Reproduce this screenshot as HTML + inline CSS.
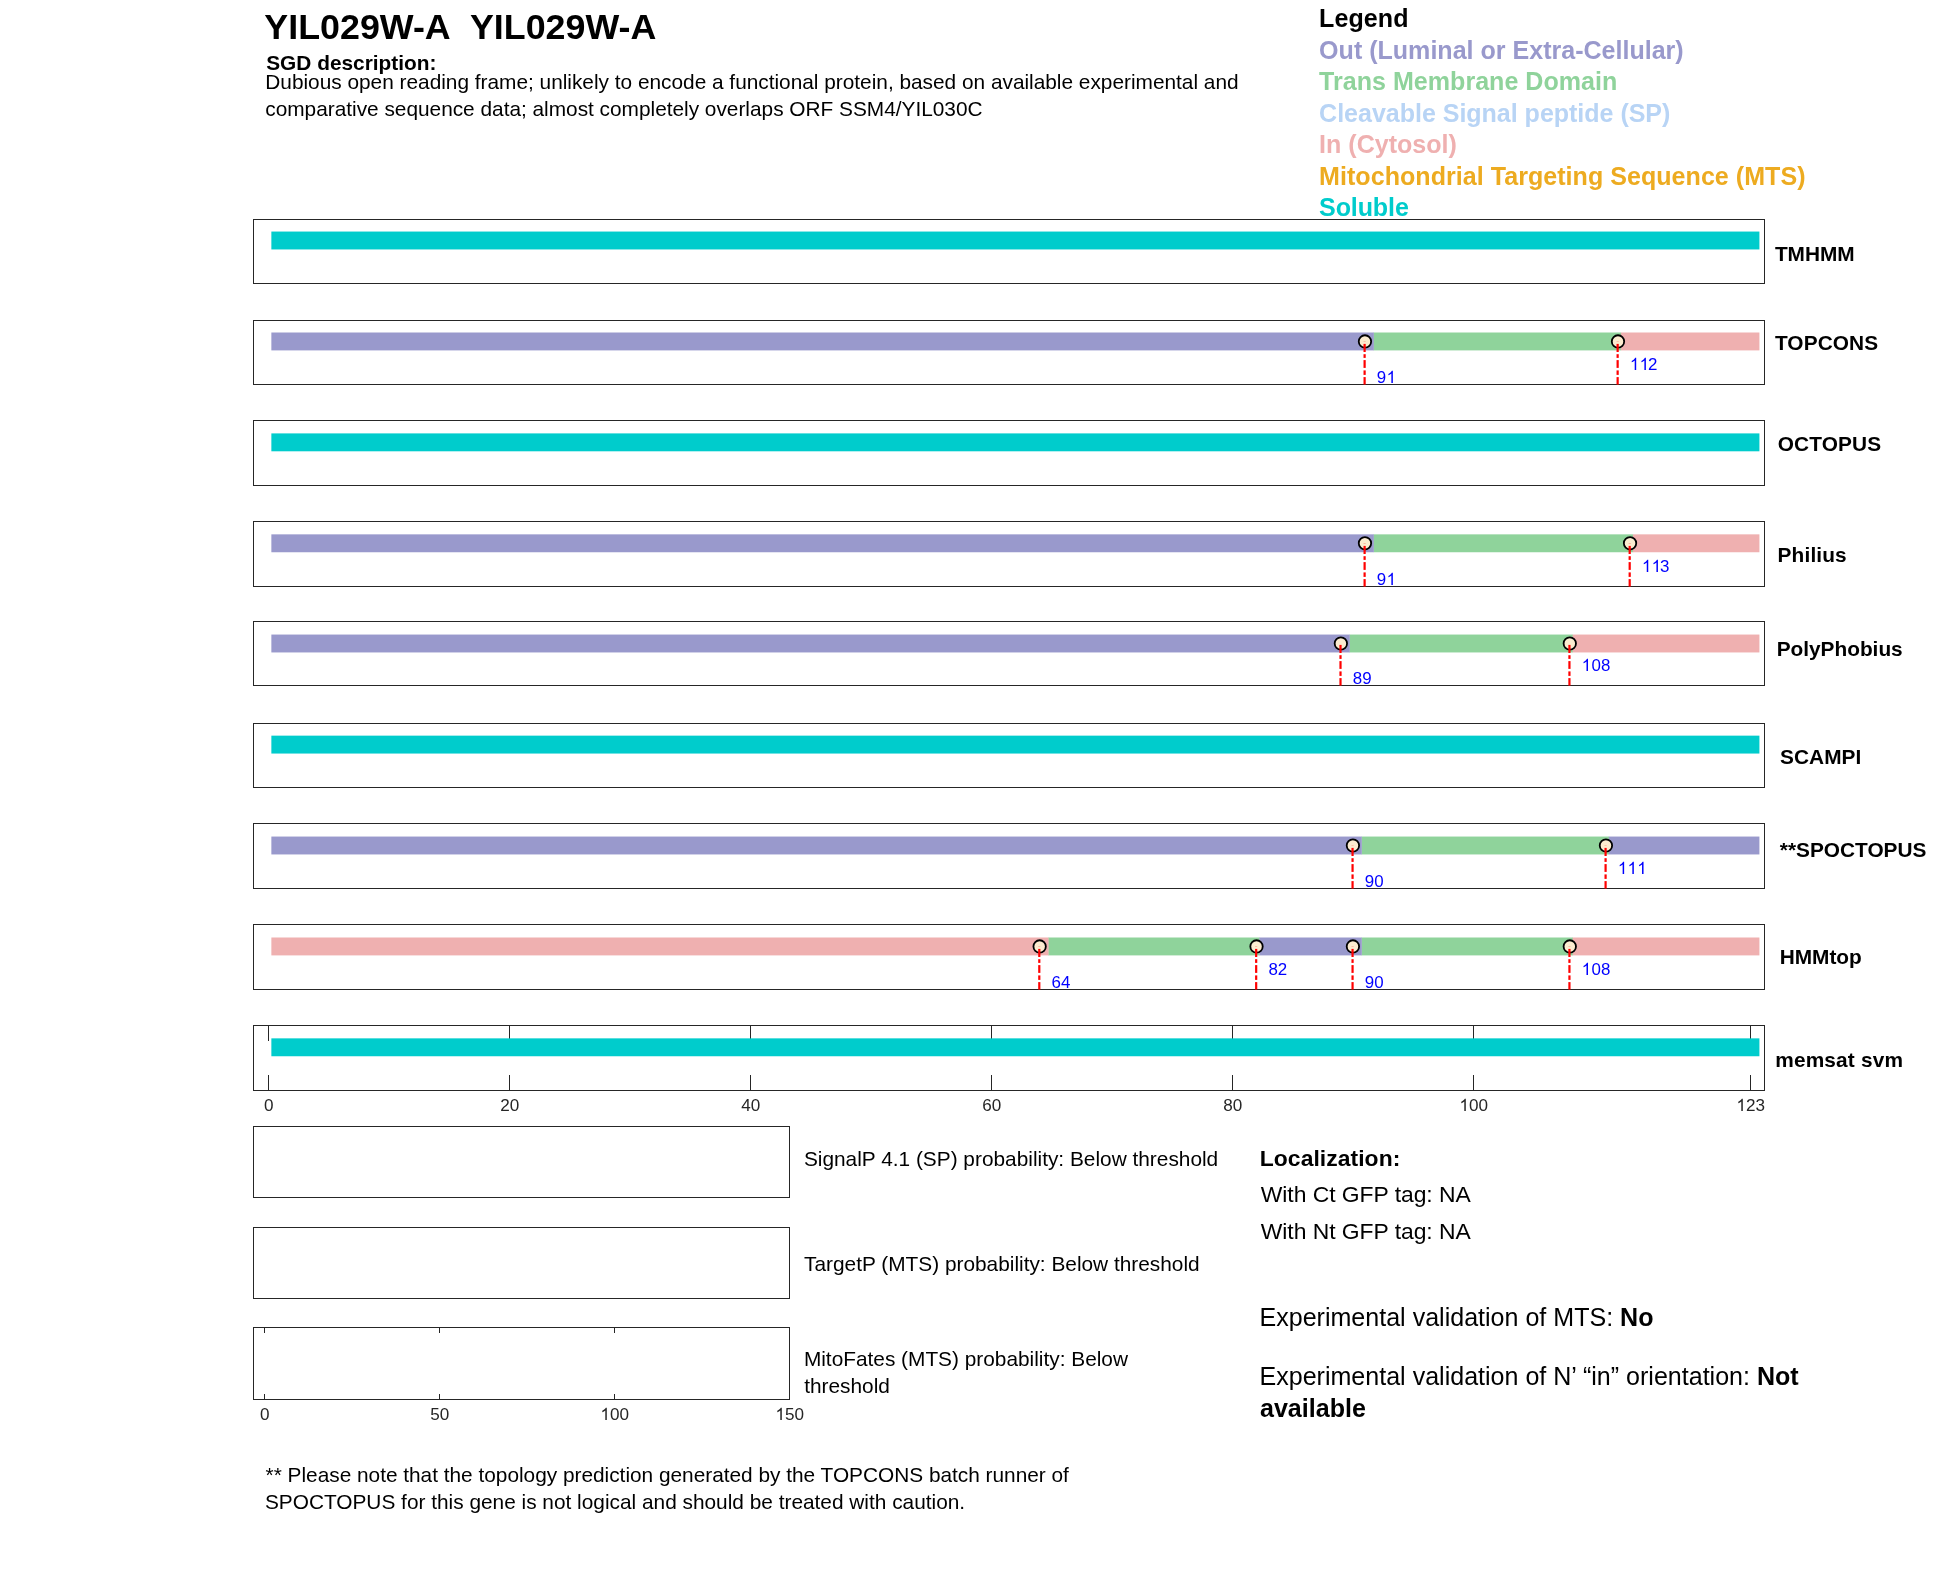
<!DOCTYPE html>
<html><head><meta charset="utf-8"><title>YIL029W-A</title>
<style>
html,body{margin:0;padding:0;background:#fff;}
body{width:1950px;height:1573px;position:relative;overflow:hidden;font-family:"Liberation Sans", sans-serif;color:#000;}
svg{position:absolute;left:0;top:0;}
#txt{position:absolute;left:0;top:0;width:1950px;height:1573px;will-change:transform;}
.h{color:transparent;}
.t{position:absolute;white-space:nowrap;font-family:"Liberation Sans", sans-serif;}
</style></head><body>
<svg width="1950" height="1573" viewBox="0 0 1950 1573">
<rect x="271.36" y="231.55" width="1488.05" height="17.90" fill="#00CCCC"/>
<rect x="253.5" y="219.5" width="1511" height="64" fill="none" stroke="#262626" stroke-width="1"/>
<rect x="1373.55" y="332.50" width="247.60" height="17.90" fill="#8FD39B"/>
<rect x="271.36" y="332.50" width="1102.48" height="17.90" fill="#9999CC"/>
<rect x="1620.85" y="332.50" width="138.56" height="17.90" fill="#EFB0B0"/>
<rect x="253.5" y="320.5" width="1511" height="64" fill="none" stroke="#262626" stroke-width="1"/>
<circle cx="1364.96" cy="341.45" r="6.2" fill="#FCECD0" stroke="#000" stroke-width="1.8"/>
<rect x="1363.51" y="341.40" width="2.20" height="0.40" fill="#FF0000" opacity="0.45"/>
<rect x="1363.51" y="343.90" width="2.20" height="8.10" fill="#FF0000"/>
<rect x="1363.51" y="354.20" width="2.20" height="3.70" fill="#FF0000"/>
<rect x="1363.51" y="360.10" width="2.20" height="7.80" fill="#FF0000"/>
<rect x="1363.51" y="370.40" width="2.20" height="4.50" fill="#FF0000"/>
<rect x="1363.51" y="377.10" width="2.20" height="7.50" fill="#FF0000"/>
<circle cx="1617.99" cy="341.45" r="6.2" fill="#FCECD0" stroke="#000" stroke-width="1.8"/>
<rect x="1616.54" y="341.40" width="2.20" height="0.40" fill="#FF0000" opacity="0.45"/>
<rect x="1616.54" y="343.90" width="2.20" height="8.10" fill="#FF0000"/>
<rect x="1616.54" y="354.20" width="2.20" height="3.70" fill="#FF0000"/>
<rect x="1616.54" y="360.10" width="2.20" height="7.80" fill="#FF0000"/>
<rect x="1616.54" y="370.40" width="2.20" height="4.50" fill="#FF0000"/>
<rect x="1616.54" y="377.10" width="2.20" height="7.50" fill="#FF0000"/>
<rect x="271.36" y="433.40" width="1488.05" height="17.90" fill="#00CCCC"/>
<rect x="253.5" y="420.5" width="1511" height="65" fill="none" stroke="#262626" stroke-width="1"/>
<rect x="1373.55" y="534.35" width="259.65" height="17.90" fill="#8FD39B"/>
<rect x="271.36" y="534.35" width="1102.48" height="17.90" fill="#9999CC"/>
<rect x="1632.90" y="534.35" width="126.51" height="17.90" fill="#EFB0B0"/>
<rect x="253.5" y="521.5" width="1511" height="65" fill="none" stroke="#262626" stroke-width="1"/>
<circle cx="1364.96" cy="543.30" r="6.2" fill="#FCECD0" stroke="#000" stroke-width="1.8"/>
<rect x="1363.51" y="543.30" width="2.20" height="0.50" fill="#FF0000" opacity="0.45"/>
<rect x="1363.51" y="545.90" width="2.20" height="8.10" fill="#FF0000"/>
<rect x="1363.51" y="556.20" width="2.20" height="3.70" fill="#FF0000"/>
<rect x="1363.51" y="562.10" width="2.20" height="7.80" fill="#FF0000"/>
<rect x="1363.51" y="572.40" width="2.20" height="4.50" fill="#FF0000"/>
<rect x="1363.51" y="579.10" width="2.20" height="7.50" fill="#FF0000"/>
<circle cx="1630.04" cy="543.30" r="6.2" fill="#FCECD0" stroke="#000" stroke-width="1.8"/>
<rect x="1628.59" y="543.30" width="2.20" height="0.50" fill="#FF0000" opacity="0.45"/>
<rect x="1628.59" y="545.90" width="2.20" height="8.10" fill="#FF0000"/>
<rect x="1628.59" y="556.20" width="2.20" height="3.70" fill="#FF0000"/>
<rect x="1628.59" y="562.10" width="2.20" height="7.80" fill="#FF0000"/>
<rect x="1628.59" y="572.40" width="2.20" height="4.50" fill="#FF0000"/>
<rect x="1628.59" y="579.10" width="2.20" height="7.50" fill="#FF0000"/>
<rect x="1349.45" y="634.55" width="223.51" height="17.90" fill="#8FD39B"/>
<rect x="271.36" y="634.55" width="1078.39" height="17.90" fill="#9999CC"/>
<rect x="1572.65" y="634.55" width="186.76" height="17.90" fill="#EFB0B0"/>
<rect x="253.5" y="621.5" width="1511" height="64" fill="none" stroke="#262626" stroke-width="1"/>
<circle cx="1340.86" cy="643.50" r="6.2" fill="#FCECD0" stroke="#000" stroke-width="1.8"/>
<rect x="1339.41" y="644.90" width="2.20" height="8.10" fill="#FF0000"/>
<rect x="1339.41" y="655.20" width="2.20" height="3.70" fill="#FF0000"/>
<rect x="1339.41" y="661.10" width="2.20" height="7.80" fill="#FF0000"/>
<rect x="1339.41" y="671.40" width="2.20" height="4.50" fill="#FF0000"/>
<rect x="1339.41" y="678.10" width="2.20" height="7.50" fill="#FF0000"/>
<circle cx="1569.79" cy="643.50" r="6.2" fill="#FCECD0" stroke="#000" stroke-width="1.8"/>
<rect x="1568.34" y="644.90" width="2.20" height="8.10" fill="#FF0000"/>
<rect x="1568.34" y="655.20" width="2.20" height="3.70" fill="#FF0000"/>
<rect x="1568.34" y="661.10" width="2.20" height="7.80" fill="#FF0000"/>
<rect x="1568.34" y="671.40" width="2.20" height="4.50" fill="#FF0000"/>
<rect x="1568.34" y="678.10" width="2.20" height="7.50" fill="#FF0000"/>
<rect x="271.36" y="735.65" width="1488.05" height="17.90" fill="#00CCCC"/>
<rect x="253.5" y="723.5" width="1511" height="64" fill="none" stroke="#262626" stroke-width="1"/>
<rect x="1361.50" y="836.55" width="247.60" height="17.90" fill="#8FD39B"/>
<rect x="271.36" y="836.55" width="1090.43" height="17.90" fill="#9999CC"/>
<rect x="1608.80" y="836.55" width="150.61" height="17.90" fill="#9999CC"/>
<rect x="253.5" y="823.5" width="1511" height="65" fill="none" stroke="#262626" stroke-width="1"/>
<circle cx="1352.91" cy="845.50" r="6.2" fill="#FCECD0" stroke="#000" stroke-width="1.8"/>
<rect x="1351.46" y="845.45" width="2.20" height="0.35" fill="#FF0000" opacity="0.45"/>
<rect x="1351.46" y="847.90" width="2.20" height="8.10" fill="#FF0000"/>
<rect x="1351.46" y="858.20" width="2.20" height="3.70" fill="#FF0000"/>
<rect x="1351.46" y="864.10" width="2.20" height="7.80" fill="#FF0000"/>
<rect x="1351.46" y="874.40" width="2.20" height="4.50" fill="#FF0000"/>
<rect x="1351.46" y="881.10" width="2.20" height="7.50" fill="#FF0000"/>
<circle cx="1605.94" cy="845.50" r="6.2" fill="#FCECD0" stroke="#000" stroke-width="1.8"/>
<rect x="1604.49" y="845.45" width="2.20" height="0.35" fill="#FF0000" opacity="0.45"/>
<rect x="1604.49" y="847.90" width="2.20" height="8.10" fill="#FF0000"/>
<rect x="1604.49" y="858.20" width="2.20" height="3.70" fill="#FF0000"/>
<rect x="1604.49" y="864.10" width="2.20" height="7.80" fill="#FF0000"/>
<rect x="1604.49" y="874.40" width="2.20" height="4.50" fill="#FF0000"/>
<rect x="1604.49" y="881.10" width="2.20" height="7.50" fill="#FF0000"/>
<rect x="1048.22" y="937.50" width="211.46" height="17.90" fill="#8FD39B"/>
<rect x="1361.50" y="937.50" width="211.46" height="17.90" fill="#8FD39B"/>
<rect x="271.36" y="937.50" width="777.16" height="17.90" fill="#EFB0B0"/>
<rect x="1259.38" y="937.50" width="102.42" height="17.90" fill="#9999CC"/>
<rect x="1572.65" y="937.50" width="186.76" height="17.90" fill="#EFB0B0"/>
<rect x="253.5" y="924.5" width="1511" height="65" fill="none" stroke="#262626" stroke-width="1"/>
<circle cx="1039.64" cy="946.45" r="6.2" fill="#FCECD0" stroke="#000" stroke-width="1.8"/>
<rect x="1038.19" y="946.40" width="2.20" height="0.40" fill="#FF0000" opacity="0.45"/>
<rect x="1038.19" y="948.90" width="2.20" height="8.10" fill="#FF0000"/>
<rect x="1038.19" y="959.20" width="2.20" height="3.70" fill="#FF0000"/>
<rect x="1038.19" y="965.10" width="2.20" height="7.80" fill="#FF0000"/>
<rect x="1038.19" y="975.40" width="2.20" height="4.50" fill="#FF0000"/>
<rect x="1038.19" y="982.10" width="2.20" height="7.50" fill="#FF0000"/>
<circle cx="1256.52" cy="946.45" r="6.2" fill="#FCECD0" stroke="#000" stroke-width="1.8"/>
<rect x="1255.07" y="946.40" width="2.20" height="0.40" fill="#FF0000" opacity="0.45"/>
<rect x="1255.07" y="948.90" width="2.20" height="8.10" fill="#FF0000"/>
<rect x="1255.07" y="959.20" width="2.20" height="3.70" fill="#FF0000"/>
<rect x="1255.07" y="965.10" width="2.20" height="7.80" fill="#FF0000"/>
<rect x="1255.07" y="975.40" width="2.20" height="4.50" fill="#FF0000"/>
<rect x="1255.07" y="982.10" width="2.20" height="7.50" fill="#FF0000"/>
<circle cx="1352.91" cy="946.45" r="6.2" fill="#FCECD0" stroke="#000" stroke-width="1.8"/>
<rect x="1351.46" y="946.40" width="2.20" height="0.40" fill="#FF0000" opacity="0.45"/>
<rect x="1351.46" y="948.90" width="2.20" height="8.10" fill="#FF0000"/>
<rect x="1351.46" y="959.20" width="2.20" height="3.70" fill="#FF0000"/>
<rect x="1351.46" y="965.10" width="2.20" height="7.80" fill="#FF0000"/>
<rect x="1351.46" y="975.40" width="2.20" height="4.50" fill="#FF0000"/>
<rect x="1351.46" y="982.10" width="2.20" height="7.50" fill="#FF0000"/>
<circle cx="1569.79" cy="946.45" r="6.2" fill="#FCECD0" stroke="#000" stroke-width="1.8"/>
<rect x="1568.34" y="946.40" width="2.20" height="0.40" fill="#FF0000" opacity="0.45"/>
<rect x="1568.34" y="948.90" width="2.20" height="8.10" fill="#FF0000"/>
<rect x="1568.34" y="959.20" width="2.20" height="3.70" fill="#FF0000"/>
<rect x="1568.34" y="965.10" width="2.20" height="7.80" fill="#FF0000"/>
<rect x="1568.34" y="975.40" width="2.20" height="4.50" fill="#FF0000"/>
<rect x="1568.34" y="982.10" width="2.20" height="7.50" fill="#FF0000"/>
<rect x="268" y="1026" width="1" height="15" fill="#262626"/>
<rect x="268" y="1075" width="1" height="15" fill="#262626"/>
<rect x="509" y="1026" width="1" height="15" fill="#262626"/>
<rect x="509" y="1075" width="1" height="15" fill="#262626"/>
<rect x="750" y="1026" width="1" height="15" fill="#262626"/>
<rect x="750" y="1075" width="1" height="15" fill="#262626"/>
<rect x="991" y="1026" width="1" height="15" fill="#262626"/>
<rect x="991" y="1075" width="1" height="15" fill="#262626"/>
<rect x="1232" y="1026" width="1" height="15" fill="#262626"/>
<rect x="1232" y="1075" width="1" height="15" fill="#262626"/>
<rect x="1473" y="1026" width="1" height="15" fill="#262626"/>
<rect x="1473" y="1075" width="1" height="15" fill="#262626"/>
<rect x="1750" y="1026" width="1" height="15" fill="#262626"/>
<rect x="1750" y="1075" width="1" height="15" fill="#262626"/>
<rect x="271.36" y="1038.35" width="1488.05" height="17.90" fill="#00CCCC"/>
<rect x="253.5" y="1025.5" width="1511" height="65" fill="none" stroke="#262626" stroke-width="1"/>
<rect x="253.5" y="1126.5" width="536" height="71" fill="none" stroke="#262626" stroke-width="1"/>
<rect x="253.5" y="1227.5" width="536" height="71" fill="none" stroke="#262626" stroke-width="1"/>
<rect x="253.5" y="1327.5" width="536" height="72" fill="none" stroke="#262626" stroke-width="1"/>
<rect x="264" y="1328" width="1" height="5" fill="#262626"/>
<rect x="264" y="1394" width="1" height="5" fill="#262626"/>
<rect x="439" y="1328" width="1" height="5" fill="#262626"/>
<rect x="439" y="1394" width="1" height="5" fill="#262626"/>
<rect x="614" y="1328" width="1" height="5" fill="#262626"/>
<rect x="614" y="1394" width="1" height="5" fill="#262626"/>
<path transform="translate(1386.56,383) scale(0.00825,-0.00825)" d="M763 0H583V1147Q518 1085 412.5 1023T223 930V1104Q374 1175 487 1276T647 1472H763Z" fill="#0000FF"/>
<path transform="translate(1629.89,370) scale(0.00825,-0.00825)" d="M763 0H583V1147Q518 1085 412.5 1023T223 930V1104Q374 1175 487 1276T647 1472H763Z" fill="#0000FF"/>
<path transform="translate(1639.59,370) scale(0.00825,-0.00825)" d="M763 0H583V1147Q518 1085 412.5 1023T223 930V1104Q374 1175 487 1276T647 1472H763Z" fill="#0000FF"/>
<path transform="translate(1386.56,585) scale(0.00825,-0.00825)" d="M763 0H583V1147Q518 1085 412.5 1023T223 930V1104Q374 1175 487 1276T647 1472H763Z" fill="#0000FF"/>
<path transform="translate(1641.94,572) scale(0.00825,-0.00825)" d="M763 0H583V1147Q518 1085 412.5 1023T223 930V1104Q374 1175 487 1276T647 1472H763Z" fill="#0000FF"/>
<path transform="translate(1651.63,572) scale(0.00825,-0.00825)" d="M763 0H583V1147Q518 1085 412.5 1023T223 930V1104Q374 1175 487 1276T647 1472H763Z" fill="#0000FF"/>
<path transform="translate(1581.69,671) scale(0.00825,-0.00825)" d="M763 0H583V1147Q518 1085 412.5 1023T223 930V1104Q374 1175 487 1276T647 1472H763Z" fill="#0000FF"/>
<path transform="translate(1617.84,874) scale(0.00825,-0.00825)" d="M763 0H583V1147Q518 1085 412.5 1023T223 930V1104Q374 1175 487 1276T647 1472H763Z" fill="#0000FF"/>
<path transform="translate(1627.54,874) scale(0.00825,-0.00825)" d="M763 0H583V1147Q518 1085 412.5 1023T223 930V1104Q374 1175 487 1276T647 1472H763Z" fill="#0000FF"/>
<path transform="translate(1637.24,874) scale(0.00825,-0.00825)" d="M763 0H583V1147Q518 1085 412.5 1023T223 930V1104Q374 1175 487 1276T647 1472H763Z" fill="#0000FF"/>
<path transform="translate(1581.69,975) scale(0.00825,-0.00825)" d="M763 0H583V1147Q518 1085 412.5 1023T223 930V1104Q374 1175 487 1276T647 1472H763Z" fill="#0000FF"/>
<path transform="translate(1459.43,1111) scale(0.00835,-0.00835)" d="M763 0H583V1147Q518 1085 412.5 1023T223 930V1104Q374 1175 487 1276T647 1472H763Z" fill="#262626"/>
<path transform="translate(1736.43,1111) scale(0.00835,-0.00835)" d="M763 0H583V1147Q518 1085 412.5 1023T223 930V1104Q374 1175 487 1276T647 1472H763Z" fill="#262626"/>
<path transform="translate(600.43,1420) scale(0.00835,-0.00835)" d="M763 0H583V1147Q518 1085 412.5 1023T223 930V1104Q374 1175 487 1276T647 1472H763Z" fill="#262626"/>
<path transform="translate(775.43,1420) scale(0.00835,-0.00835)" d="M763 0H583V1147Q518 1085 412.5 1023T223 930V1104Q374 1175 487 1276T647 1472H763Z" fill="#262626"/>
</svg>
<div id="txt">
<div class="t" style="left:264.30px;top:5px;font-size:35.8px;line-height:44px;font-weight:bold;letter-spacing:0.015px;">YIL029W-A&nbsp; YIL029W-A</div>
<div class="t" style="left:266.20px;top:49px;font-size:20.83px;line-height:27px;font-weight:bold;letter-spacing:0.015px;">SGD description:</div>
<div class="t" style="left:265.30px;top:68px;font-size:20.83px;line-height:27px;letter-spacing:-0.005px;">Dubious open reading frame; unlikely to encode a functional protein, based on available experimental and</div>
<div class="t" style="left:265.30px;top:95px;font-size:20.83px;line-height:27px;letter-spacing:-0.008px;">comparative sequence data; almost completely overlaps ORF SSM4/YIL030C</div>
<div class="t" style="left:1319.10px;top:2px;font-size:25.05px;line-height:32px;font-weight:bold;letter-spacing:0.069px;">Legend</div>
<div class="t" style="left:1319.10px;top:34px;font-size:25.05px;line-height:32px;color:#9999CC;font-weight:bold;">Out (Luminal or Extra-Cellular)</div>
<div class="t" style="left:1319.10px;top:65px;font-size:25.05px;line-height:32px;color:#8FD39B;font-weight:bold;letter-spacing:0.015px;">Trans Membrane Domain</div>
<div class="t" style="left:1319.10px;top:97px;font-size:25.05px;line-height:32px;color:#B8D4F5;font-weight:bold;letter-spacing:-0.03px;">Cleavable Signal peptide (SP)</div>
<div class="t" style="left:1319.10px;top:128px;font-size:25.05px;line-height:32px;color:#EFB0B0;font-weight:bold;">In (Cytosol)</div>
<div class="t" style="left:1319.10px;top:160px;font-size:25.05px;line-height:32px;color:#EDAB20;font-weight:bold;letter-spacing:0.033px;">Mitochondrial Targeting Sequence (MTS)</div>
<div class="t" style="left:1319.10px;top:191px;font-size:25.05px;line-height:32px;color:#00CCCC;font-weight:bold;letter-spacing:-0.121px;">Soluble</div>
<div class="t" style="left:1774.90px;top:240px;font-size:20.83px;line-height:27px;font-weight:bold;">TMHMM</div>
<div class="t" style="left:1376.86px;top:366px;font-size:16.9px;line-height:23px;color:#0000FF;letter-spacing:0.3px;">9<span class="h">1</span></div>
<div class="t" style="left:1629.89px;top:353px;font-size:16.9px;line-height:23px;color:#0000FF;letter-spacing:0.3px;"><span class="h">1</span><span class="h">1</span>2</div>
<div class="t" style="left:1774.90px;top:329px;font-size:20.83px;line-height:27px;font-weight:bold;letter-spacing:0.1px;">TOPCONS</div>
<div class="t" style="left:1777.70px;top:430px;font-size:20.83px;line-height:27px;font-weight:bold;letter-spacing:0.129px;">OCTOPUS</div>
<div class="t" style="left:1376.86px;top:568px;font-size:16.9px;line-height:23px;color:#0000FF;letter-spacing:0.3px;">9<span class="h">1</span></div>
<div class="t" style="left:1641.94px;top:555px;font-size:16.9px;line-height:23px;color:#0000FF;letter-spacing:0.3px;"><span class="h">1</span><span class="h">1</span>3</div>
<div class="t" style="left:1777.60px;top:541px;font-size:20.83px;line-height:27px;font-weight:bold;letter-spacing:0.133px;">Philius</div>
<div class="t" style="left:1352.76px;top:667px;font-size:16.9px;line-height:23px;color:#0000FF;">89</div>
<div class="t" style="left:1581.69px;top:654px;font-size:16.9px;line-height:23px;color:#0000FF;letter-spacing:0.3px;"><span class="h">1</span>08</div>
<div class="t" style="left:1776.70px;top:635px;font-size:20.83px;line-height:27px;font-weight:bold;letter-spacing:-0.014px;">PolyPhobius</div>
<div class="t" style="left:1780.10px;top:743px;font-size:20.83px;line-height:27px;font-weight:bold;letter-spacing:0.037px;">SCAMPI</div>
<div class="t" style="left:1364.81px;top:870px;font-size:16.9px;line-height:23px;color:#0000FF;">90</div>
<div class="t" style="left:1617.84px;top:857px;font-size:16.9px;line-height:23px;color:#0000FF;letter-spacing:0.3px;"><span class="h">1</span><span class="h">1</span><span class="h">1</span></div>
<div class="t" style="left:1779.80px;top:836px;font-size:20.83px;line-height:27px;font-weight:bold;letter-spacing:0.004px;">**SPOCTOPUS</div>
<div class="t" style="left:1051.53px;top:971px;font-size:16.9px;line-height:23px;color:#0000FF;">64</div>
<div class="t" style="left:1268.42px;top:958px;font-size:16.9px;line-height:23px;color:#0000FF;">82</div>
<div class="t" style="left:1364.81px;top:971px;font-size:16.9px;line-height:23px;color:#0000FF;">90</div>
<div class="t" style="left:1581.69px;top:958px;font-size:16.9px;line-height:23px;color:#0000FF;letter-spacing:0.3px;"><span class="h">1</span>08</div>
<div class="t" style="left:1779.70px;top:943px;font-size:20.83px;line-height:27px;font-weight:bold;letter-spacing:-0.004px;">HMMtop</div>
<div class="t" style="left:1775.20px;top:1046px;font-size:20.83px;line-height:27px;font-weight:bold;letter-spacing:0.175px;">memsat svm</div>
<div class="t" style="left:268.70px;top:1094px;font-size:17.1px;line-height:23px;color:#262626;transform:translateX(-50%);">0</div>
<div class="t" style="left:509.70px;top:1094px;font-size:17.1px;line-height:23px;color:#262626;transform:translateX(-50%);">20</div>
<div class="t" style="left:750.70px;top:1094px;font-size:17.1px;line-height:23px;color:#262626;transform:translateX(-50%);">40</div>
<div class="t" style="left:991.70px;top:1094px;font-size:17.1px;line-height:23px;color:#262626;transform:translateX(-50%);">60</div>
<div class="t" style="left:1232.70px;top:1094px;font-size:17.1px;line-height:23px;color:#262626;transform:translateX(-50%);">80</div>
<div class="t" style="left:1473.70px;top:1094px;font-size:17.1px;line-height:23px;color:#262626;transform:translateX(-50%);"><span class="h">1</span>00</div>
<div class="t" style="left:1750.70px;top:1094px;font-size:17.1px;line-height:23px;color:#262626;transform:translateX(-50%);"><span class="h">1</span>23</div>
<div class="t" style="left:264.70px;top:1403px;font-size:17.1px;line-height:23px;color:#262626;transform:translateX(-50%);">0</div>
<div class="t" style="left:439.70px;top:1403px;font-size:17.1px;line-height:23px;color:#262626;transform:translateX(-50%);">50</div>
<div class="t" style="left:614.70px;top:1403px;font-size:17.1px;line-height:23px;color:#262626;transform:translateX(-50%);"><span class="h">1</span>00</div>
<div class="t" style="left:789.70px;top:1403px;font-size:17.1px;line-height:23px;color:#262626;transform:translateX(-50%);"><span class="h">1</span>50</div>
<div class="t" style="left:803.90px;top:1145px;font-size:20.83px;line-height:27px;letter-spacing:0.005px;">SignalP 4.1 (SP) probability: Below threshold</div>
<div class="t" style="left:804.10px;top:1250px;font-size:20.83px;line-height:27px;">TargetP (MTS) probability: Below threshold</div>
<div class="t" style="left:803.90px;top:1345px;font-size:20.83px;line-height:27px;">MitoFates (MTS) probability: Below</div>
<div class="t" style="left:804.20px;top:1372px;font-size:20.83px;line-height:27px;">threshold</div>
<div class="t" style="left:1259.80px;top:1143px;font-size:22.9px;line-height:30px;font-weight:bold;letter-spacing:0.052px;">Localization:</div>
<div class="t" style="left:1260.70px;top:1179px;font-size:22.9px;line-height:30px;letter-spacing:-0.036px;">With Ct GFP tag: NA</div>
<div class="t" style="left:1260.70px;top:1216px;font-size:22.9px;line-height:30px;letter-spacing:-0.036px;">With Nt GFP tag: NA</div>
<div class="t" style="left:1259.50px;top:1301px;font-size:25.05px;line-height:32px;">Experimental validation of MTS: <b>No</b></div>
<div class="t" style="left:1259.50px;top:1360px;font-size:25.05px;line-height:32px;">Experimental validation of N&rsquo; &ldquo;in&rdquo; orientation: <b>Not</b></div>
<div class="t" style="left:1260.00px;top:1392px;font-size:25.05px;line-height:32px;"><b>available</b></div>
<div class="t" style="left:265.60px;top:1461px;font-size:20.83px;line-height:27px;letter-spacing:-0.008px;">** Please note that the topology prediction generated by the TOPCONS batch runner of</div>
<div class="t" style="left:264.90px;top:1488px;font-size:20.83px;line-height:27px;letter-spacing:0.002px;">SPOCTOPUS for this gene is not logical and should be treated with caution.</div>
</div>
</body></html>
